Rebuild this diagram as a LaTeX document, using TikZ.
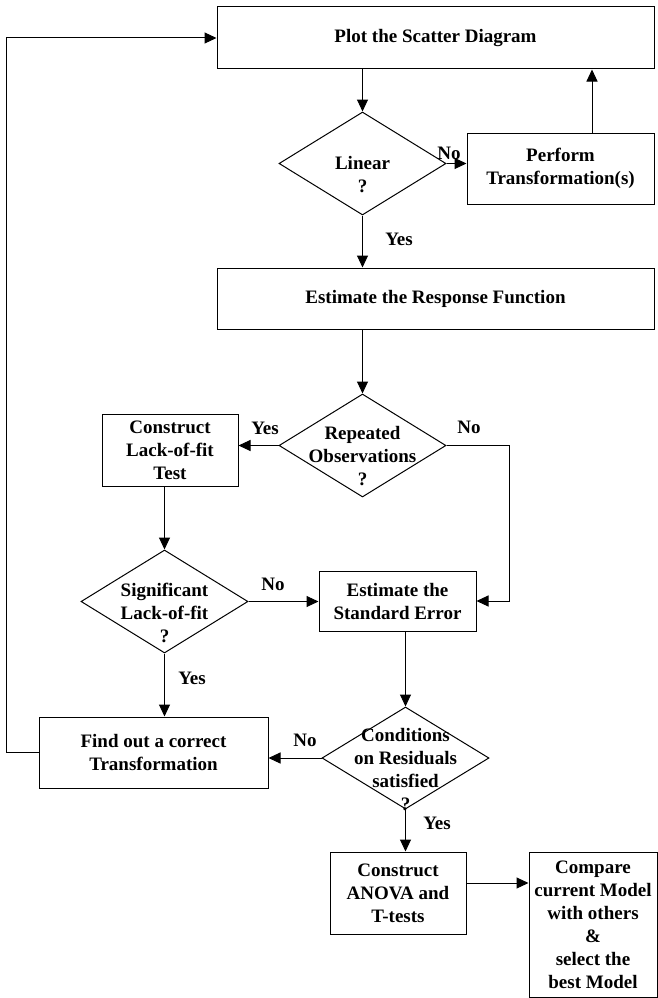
\documentclass[tikz,border=0pt]{standalone}
\usepackage{fontspec}
\setmainfont{Liberation Serif}
\usetikzlibrary{arrows.meta, positioning, shapes.geometric, calc}

\begin{document}
\begin{tikzpicture}[x=1pt, y=-1pt,
    font=\fontsize{19}{23}\selectfont\bfseries,
    box/.style 2 args={draw, line width=1pt, inner sep=0pt, align=center,
      minimum width=#1, minimum height=#2},
    dia/.style={draw, diamond, line width=1pt, inner sep=0pt,
      minimum width=167pt, minimum height=103pt},
    txt/.style={align=center, inner sep=0pt},
    arr/.style={-{Triangle[length=12pt,width=11pt]}, line width=1pt}]
  \useasboundingbox (0,0) rectangle (658,998);
  % Scatter and linearity
  \node[box={437pt}{62pt}] (plot) at (435.5,38) {Plot the Scatter Diagram};
  \node[dia] (lin) at (362.5,163.5) {};
  \node[txt] (lintxt) at ([yshift=-11pt]lin.center) {Linear\\?};
  \node[box={187pt}{71pt}] (perf) at (560.5,168.5) {Perform\\Transformation(s)};
  % Response function
  \node[box={437pt}{61pt}] (resp) at (435.5,298.5) {Estimate the Response Function};
  \node[dia] (rep) at (362.5,445.5) {};
  \node[txt] (reptxt) at ([yshift=-11pt]rep.center) {Repeated\\Observations\\?};
  % Lack of fit
  \node[box={136pt}{72pt}] (lof) at (170,450) {Construct\\Lack-of-fit\\Test};
  \node[dia] (sig) at (164.5,601.5) {};
  \node[txt] (sigtxt) at ([yshift=-11pt]sig.center) {Significant\\Lack-of-fit\\?};
  \node[box={157pt}{60pt}] (se) at (397.5,601) {Estimate the\\Standard Error};
  \node[box={229pt}{71pt}] (fix) at (153.5,752.5) {Find out a correct\\Transformation};
  % Residuals
  \node[dia, minimum height=102pt] (cond) at (405.5,758) {};
  \node[txt] (condtxt) at ([yshift=-12pt]cond.center)
    {Conditions\\on Residuals\\satisfied\\?};
  \node[box={136pt}{82pt}] (anova) at (398,893) {Construct\\ANOVA and\\T-tests};
  \node[box={128pt}{145pt}] (comp) at (593,924.5)
    {Compare\\current Model\\with others\\\&\\select the\\best Model};
  % Labels
  \node[txt] (yes1) at (399,239) {Yes};
  \node[txt] (no1) at (449,153) {No};
  \node[txt] (yes2) at (265,428) {Yes};
  \node[txt] (no2) at (469,427) {No};
  \node[txt] (no3) at (273,584) {No};
  \node[txt] (yes3) at (192,678) {Yes};
  \node[txt] (no4) at (305,740) {No};
  \node[txt] (yes4) at (437,823) {Yes};
  % Arrows
  \draw[arr] (plot.south -| lin.north) -- (lin.north);
  \draw[arr] (lin.east) -- (lin.east -| perf.west);
  \draw[arr] ([xshift=31.5pt]perf.north) -- ([xshift=31.5pt]perf.north |- plot.south);
  \draw[arr] (lin.south) -- (lin.south |- resp.north);
  \draw[arr] (resp.south -| rep.north) -- (rep.north);
  \draw[arr] (rep.west) -- (rep.west -| lof.east);
  \draw[arr] (rep.east) -- ++(63,0) |- (se.east);
  \draw[arr] (lof.south -| sig.north) -- (sig.north);
  \draw[arr] (sig.east) -- (sig.east -| se.west);
  \draw[arr] (sig.south) -- (sig.south |- fix.north);
  \draw[arr] (se.south -| cond.north) -- (cond.north);
  \draw[arr] (cond.west) -- (cond.west -| fix.east);
  \draw[arr] (fix.west) -- ++(-32,0) |- (plot.west);
  \draw[arr] (cond.south) -- (cond.south |- anova.north);
  \draw[arr] ([yshift=10pt]anova.east) -- ([yshift=10pt]anova.east -| comp.west);
\end{tikzpicture}
\end{document}
